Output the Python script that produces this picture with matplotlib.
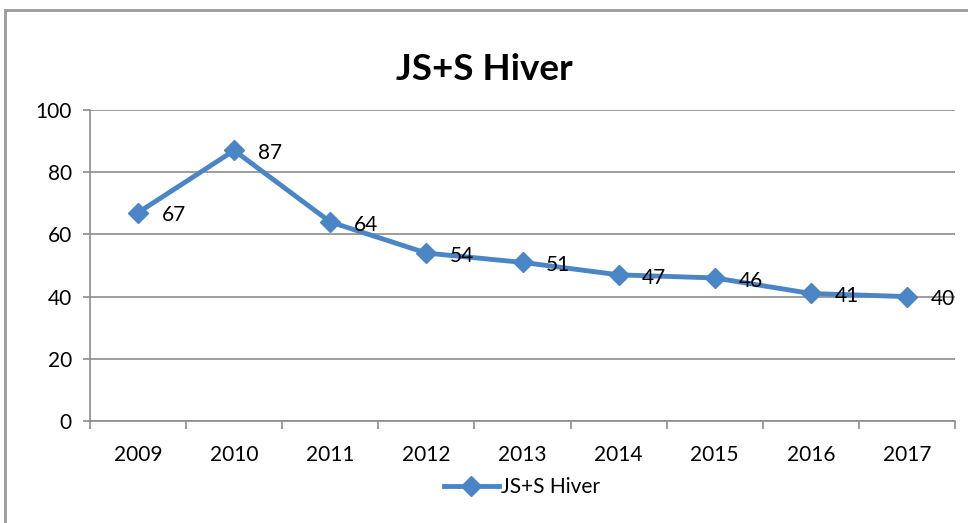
import matplotlib.pyplot as plt
from matplotlib.patches import Rectangle
from matplotlib.lines import Line2D

# données du graphique
years = ["2009", "2010", "2011", "2012", "2013", "2014", "2015", "2016", "2017"]
values = [67, 87, 64, 54, 51, 47, 46, 41, 40]
series_name = "JS+S Hiver"
y_ticks = [0, 20, 40, 60, 80, 100]

plt.rcParams['font.family'] = ['Lato', 'DejaVu Sans']

blue = '#4A86C6'
grid_col = '#8C8C8C'

fig = plt.figure(figsize=(9.68, 5.23), dpi=100)
ax = fig.add_axes([90 / 968, 102 / 523, 865 / 968, 311 / 523])

x = list(range(len(years)))
ax.plot(x, values, color=blue, lw=3.5, marker='D', markersize=10, zorder=3)

# étiquettes de données
for xi, v in zip(x, values):
    ax.annotate(str(v), (xi, v), xytext=(17, -2), textcoords='offset points',
                ha='left', va='center', fontsize=15, color='black', zorder=4)

ax.set_xlim(-0.5, len(years) - 0.5)
ax.set_ylim(0, 100)
ax.set_yticks(y_ticks)
ax.yaxis.grid(True, color=grid_col, lw=1.2)
ax.set_axisbelow(True)

# axe x : graduations entre les catégories
ax.set_xticks([i + 0.5 for i in range(-1, len(years))], minor=False)
ax.set_xticklabels([])
ax.set_xticks(x, minor=True)
ax.set_xticklabels(years, minor=True, fontsize=15)
ax.tick_params(axis='x', which='major', length=6, color=grid_col, width=1.2)
ax.tick_params(axis='x', which='minor', length=0, pad=17)
ax.tick_params(axis='y', length=5, color=grid_col, width=1.2, labelsize=15, pad=8)

for s in ['top', 'right']:
    ax.spines[s].set_visible(False)
ax.spines['left'].set_color(grid_col)
ax.spines['bottom'].set_color(grid_col)
ax.spines['left'].set_linewidth(1.2)
ax.spines['bottom'].set_linewidth(1.2)

fig.text(484 / 968, 1 - 70 / 523, series_name, ha='center', va='center',
         fontsize=26.5, fontweight='bold')

handle = Line2D([], [], color=blue, lw=3.5, marker='D', markersize=10)
fig.legend([handle], [series_name], loc='center', bbox_to_anchor=(522 / 968, 1 - 487 / 523),
           frameon=False, fontsize=15, handlelength=2.6, handletextpad=0.1)

# cadre du graphique
fig.patches.append(Rectangle((5 / 968, -0.1), 1.2, 1 - 10 / 523 + 0.1, transform=fig.transFigure,
                             fill=False, edgecolor='#9A9A9A', lw=2))

fig.savefig("out.png", dpi=100)
